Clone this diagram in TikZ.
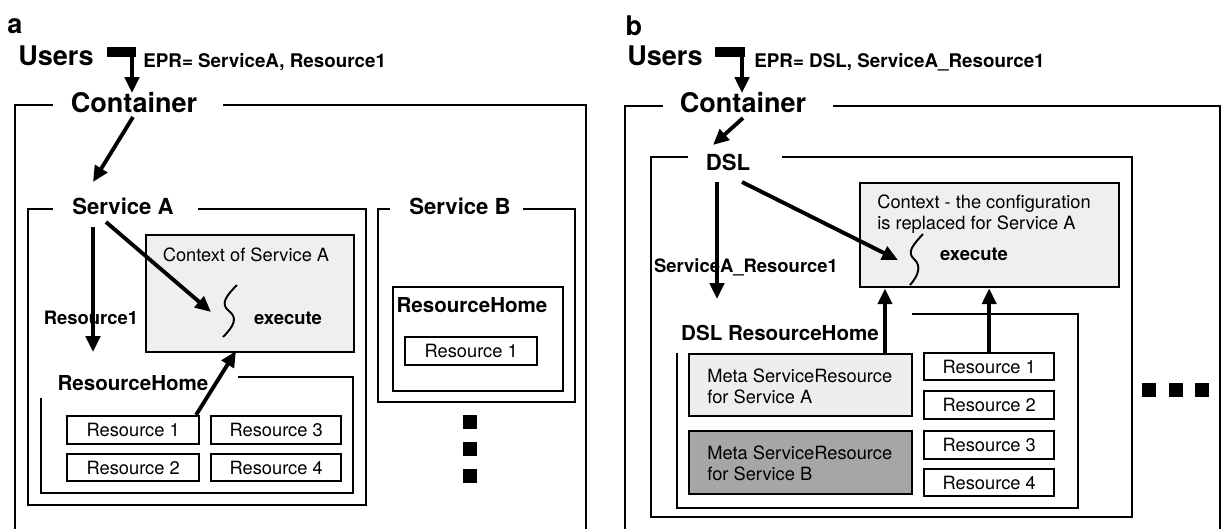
\documentclass[tikz,border=0pt]{standalone}
\usepackage{fontspec}
\setmainfont{TeX Gyre Heros}
\usetikzlibrary{arrows.meta}
\definecolor{ctxgray}{HTML}{EFEFEF}
\definecolor{metaA}{HTML}{EEEEEE}
\definecolor{metaB}{HTML}{A6A6A6}
\tikzset{
  big/.style={inner sep=0pt,font=\fontsize{15.4}{18}\selectfont\bfseries},
  mid/.style={inner sep=0pt,font=\fontsize{12.6}{15}\selectfont\bfseries},
  rhlabel/.style={inner sep=0pt,font=\fontsize{11.7}{14}\selectfont\bfseries},
  lbl/.style={inner sep=0pt,font=\fontsize{10.5}{12.5}\selectfont\bfseries},
  eprlbl/.style={inner sep=0pt,font=\fontsize{10.7}{12.5}\selectfont\bfseries},
  txt/.style={inner sep=0pt,font=\fontsize{10.4}{12.5}\selectfont},
  frame/.style={line width=1.25pt},
  resbox/.style={draw,line width=1.35pt,fill=white},
  ctxbox/.style={draw,line width=1.35pt,fill=ctxgray},
  arr/.style={line width=2.2pt,-{Triangle[length=9pt,width=8pt]}},
  ubar/.style={line width=6pt},
  squig/.style={line width=1.1pt},
  dotsq/.style={fill=black,draw=none,minimum width=7.8pt,minimum height=8pt,inner sep=0pt}
}
\begin{document}
\begin{tikzpicture}[x=0.02cm,y=-0.02cm]
\useasboundingbox (0,0) rectangle (1225,528);

% ================= panel a =================
\node[big] (la) at (15,26) {a};
\node[big] (usrA) at (56,56) {Users};
\node[eprlbl,anchor=west] (eprA) at (143,62) {EPR= ServiceA, Resource1};
\node[big] (contA) at (134,103) {Container};
\coordinate (ua1) at (107,52);
\coordinate (ua2) at (136,52);
\coordinate (ua3) at (132,50);
\coordinate (ua4) at (132,93);
\draw[ubar] (ua1) -- (ua2);
\draw[arr] (ua3) -- (ua4);

% container frame a
\draw[frame] (53,105) -- (15,105) -- (15,530);
\draw[frame] (223,105) -- (586,105) -- (586,530);

% Service A
\node[mid] (svcA) at (123,206) {Service A};
\draw[frame] (53,209) -- (28,209) -- (28,505) -- (366,505) -- (366,209) -- (198,209);
\coordinate (cA1) at (133,117);
\coordinate (cA2) at (93,182);
\draw[arr] (cA1) -- (cA2);

% context a
\node[ctxbox,minimum width=208*0.02cm,minimum height=117*0.02cm,anchor=north west] (ctxA) at (145,234) {};
\node[txt] (ctxAt) at (246,255) {Context of Service A};
\node[lbl] (exA) at (288,318) {execute};
\draw[squig] (237,285) .. controls (226,296) and (220,304) .. (229,311)
  .. controls (238,318) and (234,326) .. (223,337);

\node[lbl] (r1lblA) at (91,318) {Resource1};
\coordinate (sa1) at (93,227);
\coordinate (sa2) at (93,352);
\draw[arr] (sa1) -- (sa2);
\coordinate (sa3) at (106,222);
\coordinate (sa4) at (211,312);
\draw[arr] (sa3) -- (sa4);

% ResourceHome a
\node[rhlabel] (rhA) at (133,383) {ResourceHome};
\draw[frame] (238,377) -- (353,377) -- (353,493) -- (41,493) -- (41,398);
\node[resbox,minimum width=132*0.02cm,minimum height=28*0.02cm,anchor=north west] (aR1) at (66,415) {};
\node[txt] at (aR1) {Resource 1};
\node[resbox,minimum width=130*0.02cm,minimum height=28*0.02cm,anchor=north west] (aR3) at (210,415) {};
\node[txt] at (aR3) {Resource 3};
\node[resbox,minimum width=132*0.02cm,minimum height=27*0.02cm,anchor=north west] (aR2) at (66,453) {};
\node[txt] at (aR2) {Resource 2};
\node[resbox,minimum width=130*0.02cm,minimum height=27*0.02cm,anchor=north west] (aR4) at (210,453) {};
\node[txt] at (aR4) {Resource 4};
\coordinate (ra1) at (196,415);
\coordinate (ra2) at (236,351);
\draw[arr] (ra1) -- (ra2);

% Service B
\node[mid] (svcB) at (460,206) {Service B};
\draw[frame] (390,209) -- (378,209) -- (378,402) -- (575,402) -- (575,209) -- (523,209);
\node[draw,line width=1.35pt,minimum width=170*0.02cm,minimum height=104*0.02cm,anchor=north west] (rhB) at (392,286) {};
\node[rhlabel] (rhBt) at (472,305) {ResourceHome};
\node[resbox,minimum width=132*0.02cm,minimum height=28*0.02cm,anchor=north west] (bR1) at (404,336) {};
\node[txt] at (bR1) {Resource 1};
\node[dotsq] (da1) at (470,422) {};
\node[dotsq] (da2) at (470,449) {};
\node[dotsq] (da3) at (470,476) {};

% ================= panel b =================
\node[big] (lb) at (634,26) {b};
\node[big] (usrB) at (665,56) {Users};
\node[eprlbl,anchor=west] (eprB) at (754,62) {EPR= DSL, ServiceA\_Resource1};
\node[big] (contB) at (743,103) {Container};
\coordinate (ub1) at (715,52);
\coordinate (ub2) at (745,52);
\coordinate (ub3) at (742,50);
\coordinate (ub4) at (742,93);
\draw[ubar] (ub1) -- (ub2);
\draw[arr] (ub3) -- (ub4);

\draw[frame] (663,106) -- (625,106) -- (625,530);
\draw[frame] (833,106) -- (1220,106) -- (1220,530);

\node[mid] (dsl) at (728,162) {DSL};
\draw[frame] (688,157) -- (651,157) -- (651,517) -- (1132,517) -- (1132,157) -- (782,157);
\coordinate (cb1) at (743,118);
\coordinate (cb2) at (713,145);
\draw[arr] (cb1) -- (cb2);

% context b
\node[ctxbox,minimum width=259*0.02cm,minimum height=104*0.02cm,anchor=north west] (ctxB) at (859,182) {};
\node[txt,anchor=west,align=left] (ctxBt) at (877,214) {Context - the configuration\\[-0.5pt]is replaced for Service A};
\node[lbl] (exB) at (974,254) {execute};
\draw[squig] (923,234) .. controls (914,244) and (906,252) .. (914,259)
  .. controls (922,266) and (918,276) .. (910,285);

\node[lbl] (srlbl) at (746,267) {ServiceA\_Resource1};
\coordinate (db1) at (717,182);
\coordinate (db2) at (717,299);
\draw[arr] (db1) -- (db2);
\coordinate (db3) at (742,182);
\coordinate (db4) at (898,260);
\draw[arr] (db3) -- (db4);

% DSL ResourceHome
\node[rhlabel] (drh) at (780,333) {DSL ResourceHome};
\draw[frame] (912,314) -- (1078,314) -- (1078,508) -- (677,508) -- (677,353);
\node[draw,line width=1.35pt,fill=metaA,minimum width=223*0.02cm,minimum height=62*0.02cm,anchor=north west] (mA) at (688,353) {};
\node[txt,anchor=west,align=left] at (707,386) {Meta ServiceResource\\[-0.5pt]for Service A};
\node[draw,line width=1.35pt,fill=metaB,minimum width=223*0.02cm,minimum height=63*0.02cm,anchor=north west] (mB) at (688,430) {};
\node[txt,anchor=west,align=left] at (707,463) {Meta ServiceResource\\[-0.5pt]for Service B};
\node[resbox,minimum width=130*0.02cm,minimum height=27*0.02cm,anchor=north west] (bbR1) at (923,352) {};
\node[txt] at (bbR1) {Resource 1};
\node[resbox,minimum width=130*0.02cm,minimum height=28*0.02cm,anchor=north west] (bbR2) at (923,390) {};
\node[txt] at (bbR2) {Resource 2};
\node[resbox,minimum width=130*0.02cm,minimum height=28*0.02cm,anchor=north west] (bbR3) at (923,430) {};
\node[txt] at (bbR3) {Resource 3};
\node[resbox,minimum width=130*0.02cm,minimum height=27*0.02cm,anchor=north west] (bbR4) at (923,468) {};
\node[txt] at (bbR4) {Resource 4};
\draw[arr] (mA.north -| 885,0) -- (ctxB.south -| 885,0);
\draw[arr] (bbR1.north) -- (ctxB.south -| bbR1.north);

\node[dotsq] (db5) at (1149,390) {};
\node[dotsq] (db6) at (1176,390) {};
\node[dotsq] (db7) at (1202,390) {};
\end{tikzpicture}
\end{document}
